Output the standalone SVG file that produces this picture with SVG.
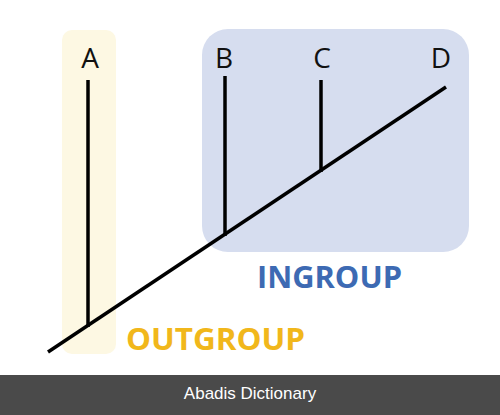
<svg xmlns="http://www.w3.org/2000/svg" width="500" height="415" viewBox="0 0 500 415">
<style>
.lbl{font-family:"Open Sans","Liberation Sans",sans-serif;font-size:28px;fill:#111;text-anchor:middle}
.grp{font-family:"Open Sans","Liberation Sans",sans-serif;font-size:31px;font-weight:bold}
.br{stroke:#000;stroke-width:3.5;fill:none;stroke-linecap:butt}
</style>
<rect width="500" height="415" fill="#fff"/>
<g id="outgroup">
<rect x="62" y="30" width="54" height="324" rx="10" fill="#fdf8e3"/>
<text class="grp" x="126" y="350" fill="#f1b71b" textLength="179" lengthAdjust="spacingAndGlyphs">OUTGROUP</text>
</g>
<g id="ingroup">
<rect x="202" y="29" width="267" height="223" rx="26" fill="#d6ddef"/>
<text class="grp" x="257" y="288" fill="#3d6ab3" textLength="145" lengthAdjust="spacingAndGlyphs">INGROUP</text>
</g>
<g id="connectors">
<line class="br" x1="48" y1="352" x2="446" y2="87"/>
<line class="br" x1="88" y1="80" x2="88" y2="327"/>
<line class="br" x1="225" y1="76" x2="225" y2="236"/>
<line class="br" x1="321" y1="80" x2="321" y2="172"/>
</g>
<g id="taxonA"><text class="lbl" x="90" y="68">A</text></g>
<g id="taxonB"><text class="lbl" x="224" y="68">B</text></g>
<g id="taxonC"><text class="lbl" x="322" y="68">C</text></g>
<g id="taxonD"><text class="lbl" x="441" y="68">D</text></g>
<g id="footer">
<rect x="0" y="375" width="500" height="40" fill="#4a4a4a"/>
<text x="250" y="399" font-family="Liberation Sans,Arial,sans-serif" font-size="17" fill="#fff" text-anchor="middle">Abadis Dictionary</text>
</g>
</svg>
